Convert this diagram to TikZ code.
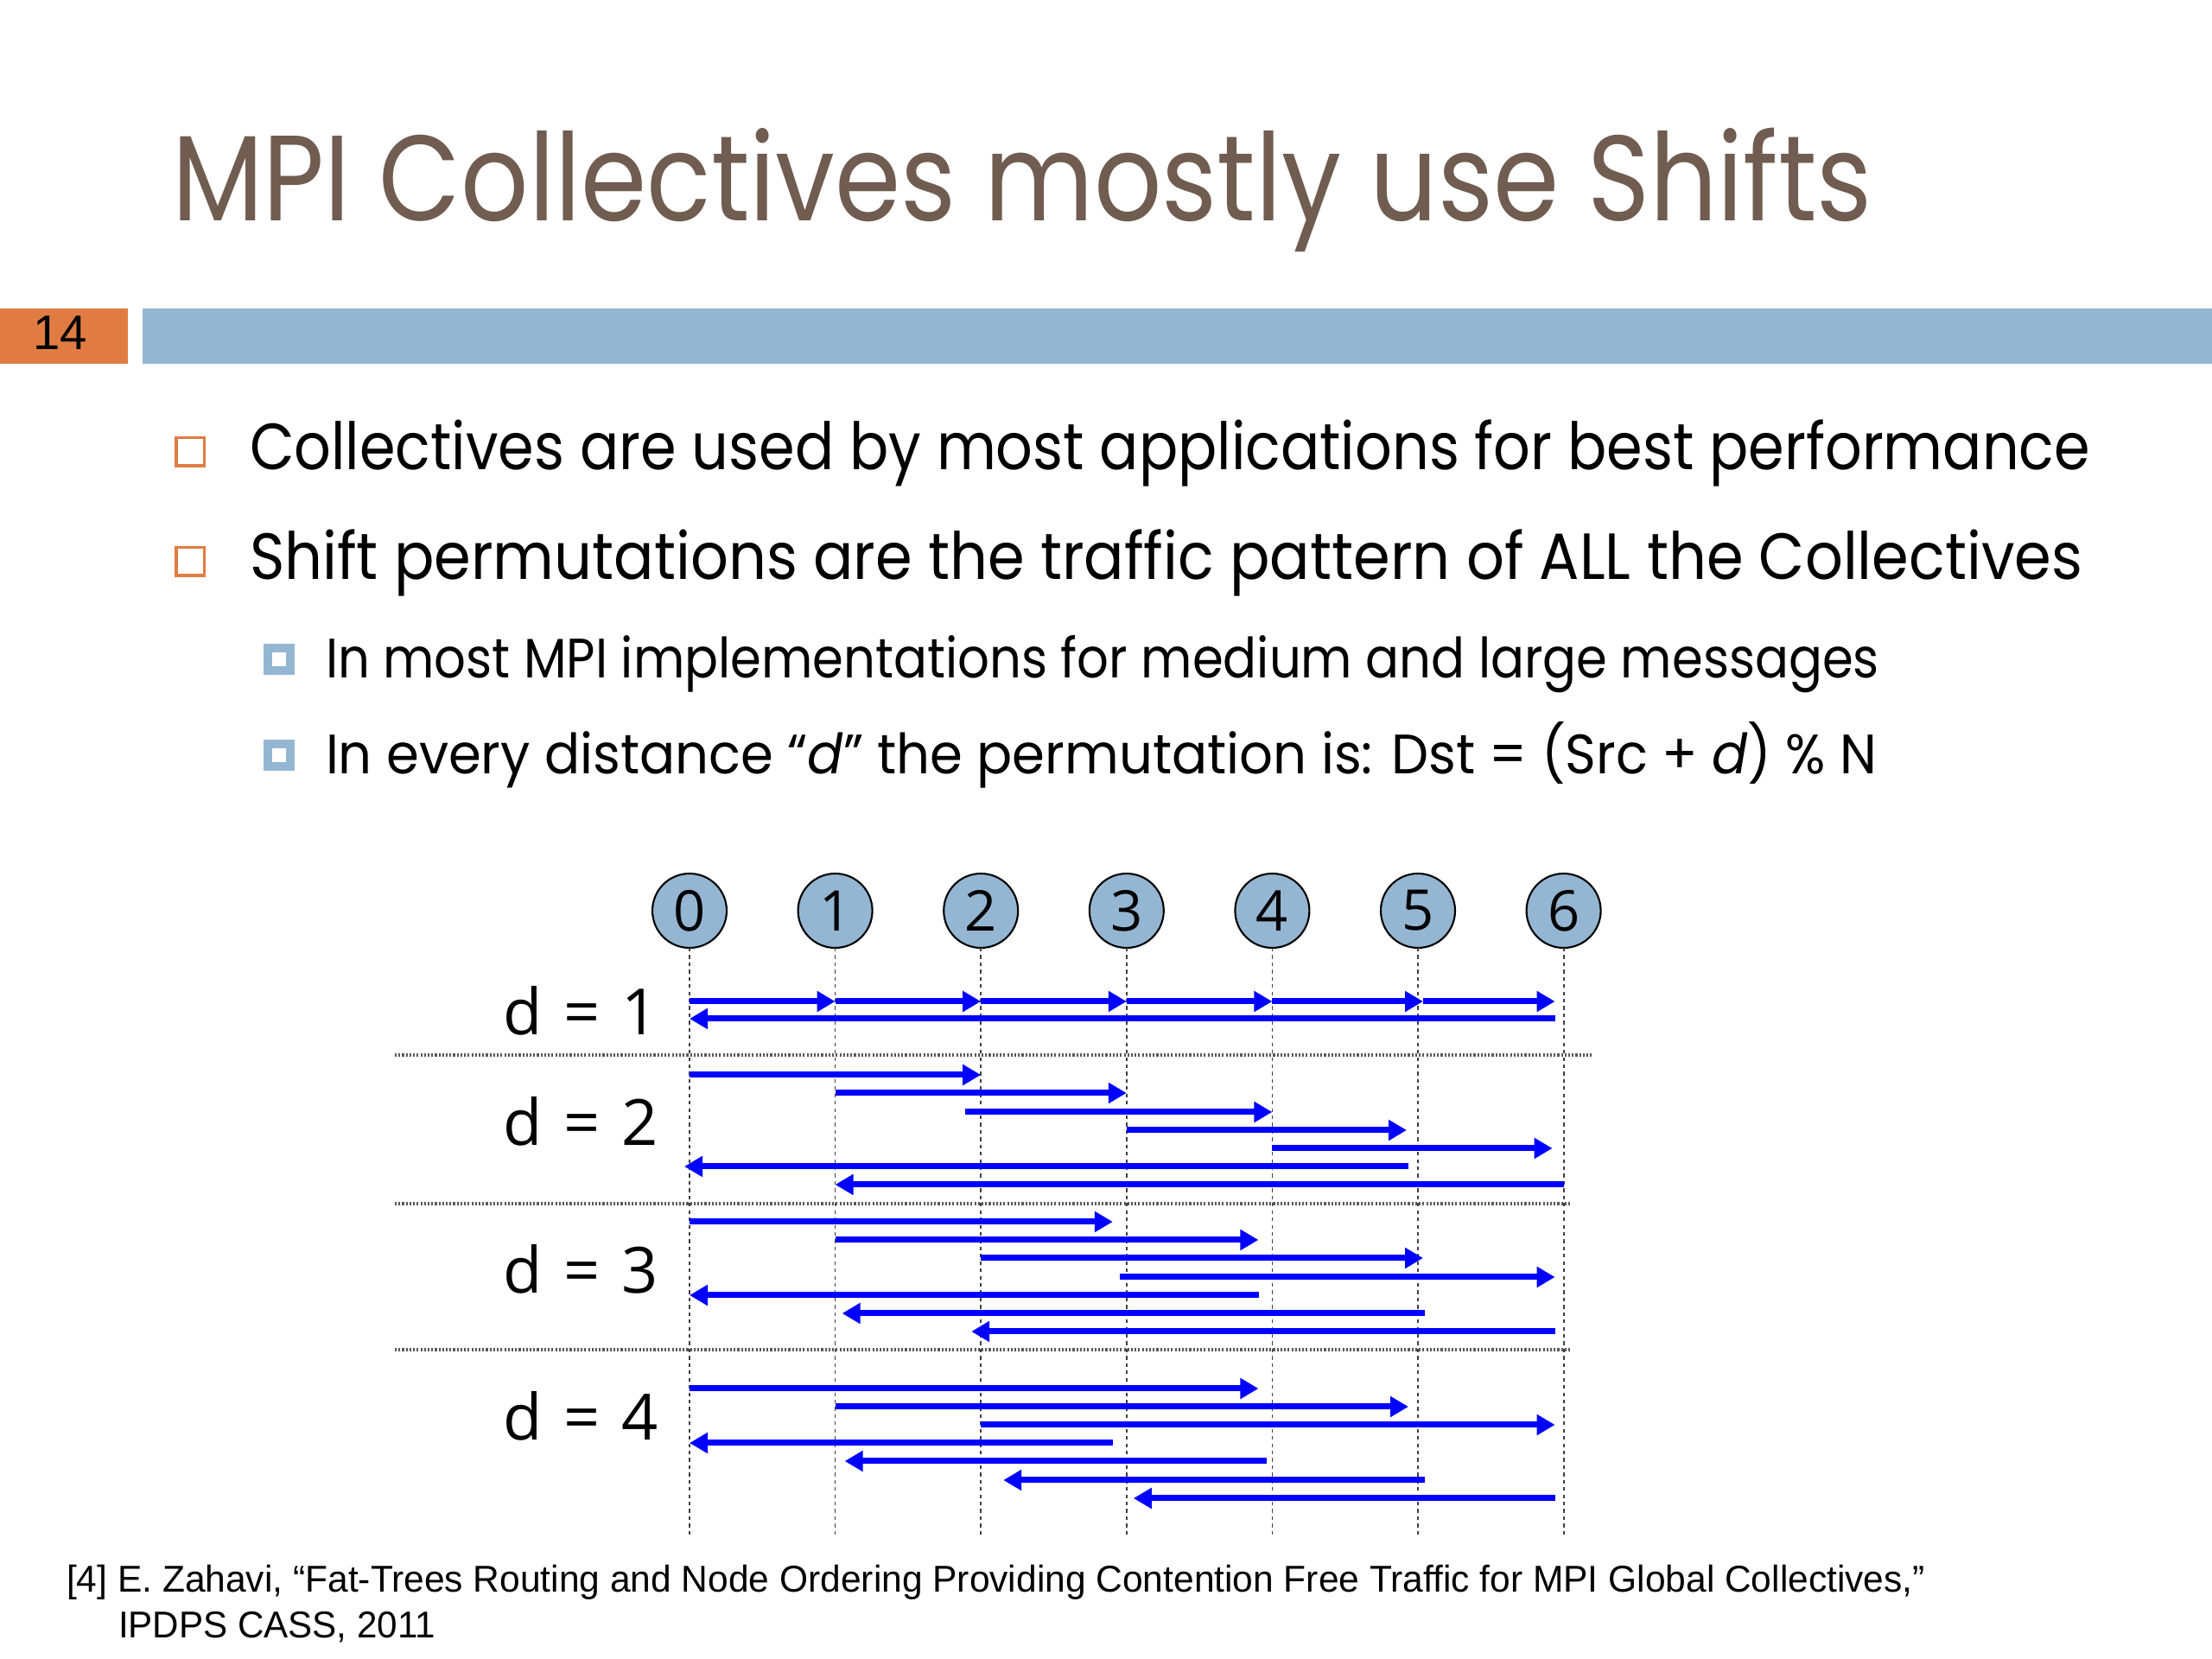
\documentclass[tikz,border=0pt]{standalone}
\usepackage{graphicx}
\usepackage{fontspec}
\setmainfont{Poppins}
\newfontfamily\refont{Liberation Sans}
\newfontfamily\labfont{Open Sans}
\usetikzlibrary{positioning,arrows.meta}

\definecolor{titlebrown}{RGB}{112,92,80}
\definecolor{barblue}{RGB}{148,182,210}
\definecolor{barorange}{RGB}{224,124,66}
\definecolor{msgblue}{RGB}{0,0,255}

% squeeze a line of text to a given width, height kept
\newcommand{\fitline}[2]{\resizebox{#1}{\height}{#2}}

\begin{document}
\begin{tikzpicture}[%
        x=1cm,y=1cm,
        txt/.style={anchor=base west, inner sep=0pt, outer sep=0pt},
        rank/.style={%
          circle,
          draw=black,
          fill=barblue,
          minimum size=0.86cm,
          inner sep=0pt,
          outer sep=0pt,
          line width=0.6pt,
          font=\labfont\fontsize{18.5}{18.5}\selectfont
        },
        dlabel/.style={anchor=base east, inner sep=0pt, font=\labfont\fontsize{21}{21}\selectfont},
        obullet/.style={draw=barorange, line width=0.035cm, minimum size=0.325cm, inner sep=0pt},
        bbullet/.style={draw=barblue, line width=0.1cm, minimum size=0.26cm, inner sep=0pt},
        msg/.style={draw=msgblue, line width=0.07cm, -{Triangle[length=0.21cm,width=0.23cm]}},
        guide/.style={line width=0.5pt, black!75, dash pattern=on 1.2pt off 1.2pt},
        sep/.style={line width=0.035cm, black!65, dash pattern=on 0.6pt off 0.6pt}
      ]
      \useasboundingbox (0,0) rectangle (25.6,19.2);

      % title and bars
      \node[txt, text=titlebrown, font=\fontsize{40}{40}\selectfont] (title) at (1.99,16.64)
        {\fitline{19.68cm}{MPI Collectives mostly use Shifts}};
      \fill[barorange] (0,15.63) rectangle (1.48,14.99);
      \fill[barblue] (1.65,15.63) rectangle (25.6,14.99);
      \node[txt, font=\refont\fontsize{16}{16}\selectfont] (num) at (0.38,15.15) {14};

      % bullets
      \node[obullet] (ob1) at (2.20,13.97) {};
      \node[txt, font=\fontsize{21.5}{21.5}\selectfont] (l1) at (2.89,13.76)
        {\fitline{21.30cm}{Collectives are used by most applications for best performance}};
      \node[obullet] (ob2) at (2.20,12.70) {};
      \node[txt, font=\fontsize{21.5}{21.5}\selectfont] (l2) at (2.89,12.49)
        {\fitline{21.21cm}{Shift permutations are the traffic pattern of ALL the Collectives}};
      \node[bbullet] (bb1) at (3.23,11.57) {};
      \node[txt, font=\fontsize{18.3}{18.3}\selectfont] (l3) at (3.77,11.35)
        {\fitline{17.98cm}{In most MPI implementations for medium and large messages}};
      \node[bbullet] (bb2) at (3.23,10.46) {};
      \node[txt, font=\fontsize{18.3}{18.3}\selectfont] (l4) at (3.77,10.24)
        {\fitline{17.95cm}{In every distance “\textit{d}” the permutation is: Dst = (Src + \textit{d}) \% N}};

      % ranks
      \node[rank] (p0) at (7.98,8.66) {0};
      \node[rank] (p1) [right=0.826cm of p0] {1};
      \node[rank] (p2) [right=0.826cm of p1] {2};
      \node[rank] (p3) [right=0.826cm of p2] {3};
      \node[rank] (p4) [right=0.826cm of p3] {4};
      \node[rank] (p5) [right=0.826cm of p4] {5};
      \node[rank] (p6) [right=0.826cm of p5] {6};

      \coordinate (foot) at (0,1.40);
      \foreach \p in {p0,p1,p2,p3,p4,p5,p6}
        \draw[guide] (\p.south) -- (\p |- foot);

      % separators
      \coordinate (s1a) at (4.57,6.99);  \coordinate (s1b) at (18.42,6.99);
      \coordinate (s2a) at (4.57,5.27);  \coordinate (s2b) at (18.17,5.27);
      \coordinate (s3a) at (4.57,3.58);  \coordinate (s3b) at (18.17,3.58);
      \draw[sep] (s1a) -- (s1b);
      \draw[sep] (s2a) -- (s2b);
      \draw[sep] (s3a) -- (s3b);

      % distance labels
      \node[dlabel] (d1) at (7.62,7.22) {d\kern1.5pt\ =\ \kern1.5pt1};
      \node[dlabel] (d2) at (7.62,5.94) {d\kern1.5pt\ =\ \kern1.5pt2};
      \node[dlabel] (d3) at (7.62,4.23) {d\kern1.5pt\ =\ \kern1.5pt3};
      \node[dlabel] (d4) at (7.62,2.53) {d\kern1.5pt\ =\ \kern1.5pt4};

      % rows
      \coordinate (a1) at (0,7.61); \coordinate (a2) at (0,7.41);
      \coordinate (b1) at (0,6.76); \coordinate (b2) at (0,6.55); \coordinate (b3) at (0,6.33);
      \coordinate (b4) at (0,6.12); \coordinate (b5) at (0,5.91); \coordinate (b6) at (0,5.70);
      \coordinate (b7) at (0,5.49);
      \coordinate (c1) at (0,5.06); \coordinate (c2) at (0,4.85); \coordinate (c3) at (0,4.64);
      \coordinate (c4) at (0,4.42); \coordinate (c5) at (0,4.21); \coordinate (c6) at (0,4.00);
      \coordinate (c7) at (0,3.79);
      \coordinate (e1) at (0,3.13); \coordinate (e2) at (0,2.92); \coordinate (e3) at (0,2.71);
      \coordinate (e4) at (0,2.50); \coordinate (e5) at (0,2.29); \coordinate (e6) at (0,2.07);
      \coordinate (e7) at (0,1.86);

      % d = 1
      \draw[msg] (p0 |- a1) -- (p1 |- a1);
      \draw[msg] (p1 |- a1) -- (p2 |- a1);
      \draw[msg] (p2 |- a1) -- (p3 |- a1);
      \draw[msg] (p3 |- a1) -- (p4 |- a1);
      \draw[msg] (p4 |- a1) -- ([xshift=0.06cm]p5 |- a1);
      \draw[msg] ([xshift=0.06cm]p5 |- a1) -- ([xshift=-0.1cm]p6 |- a1);
      \draw[msg] ([xshift=-0.1cm]p6 |- a2) -- (p0 |- a2);

      % d = 2
      \draw[msg] (p0 |- b1) -- (p2 |- b1);
      \draw[msg] (p1 |- b2) -- (p3 |- b2);
      \draw[msg] ([xshift=-0.18cm]p2 |- b3) -- (p4 |- b3);
      \draw[msg] (p3 |- b4) -- ([xshift=-0.13cm]p5 |- b4);
      \draw[msg] (p4 |- b5) -- ([xshift=-0.13cm]p6 |- b5);
      \draw[msg] ([xshift=-0.11cm]p5 |- b6) -- ([xshift=-0.06cm]p0 |- b6);
      \draw[msg] (p6 |- b7) -- (p1 |- b7);

      % d = 3
      \draw[msg] (p0 |- c1) -- ([xshift=-0.16cm]p3 |- c1);
      \draw[msg] (p1 |- c2) -- ([xshift=-0.16cm]p4 |- c2);
      \draw[msg] (p2 |- c3) -- ([xshift=0.06cm]p5 |- c3);
      \draw[msg] ([xshift=-0.08cm]p3 |- c4) -- ([xshift=-0.1cm]p6 |- c4);
      \draw[msg] ([xshift=-0.15cm]p4 |- c5) -- (p0 |- c5);
      \draw[msg] ([xshift=0.08cm]p5 |- c6) -- ([xshift=0.08cm]p1 |- c6);
      \draw[msg] ([xshift=-0.1cm]p6 |- c7) -- ([xshift=-0.11cm]p2 |- c7);

      % d = 4
      \draw[msg] (p0 |- e1) -- ([xshift=-0.16cm]p4 |- e1);
      \draw[msg] (p1 |- e2) -- ([xshift=-0.11cm]p5 |- e2);
      \draw[msg] (p2 |- e3) -- ([xshift=-0.1cm]p6 |- e3);
      \draw[msg] ([xshift=-0.16cm]p3 |- e4) -- (p0 |- e4);
      \draw[msg] ([xshift=-0.06cm]p4 |- e5) -- ([xshift=0.11cm]p1 |- e5);
      \draw[msg] ([xshift=0.08cm]p5 |- e6) -- ([xshift=0.26cm]p2 |- e6);
      \draw[msg] ([xshift=-0.1cm]p6 |- e7) -- ([xshift=0.08cm]p3 |- e7);

      % reference
      \node[txt, font=\refont\fontsize{12.3}{12.3}\selectfont] (ref1) at (0.77,0.77)
        {\fitline{21.51cm}{[4] E. Zahavi, “Fat-Trees Routing and Node Ordering Providing Contention Free Traffic for MPI Global Collectives,”}};
      \node[txt, font=\refont\fontsize{12.3}{12.3}\selectfont] (ref2) at (1.37,0.24)
        {\fitline{3.67cm}{IPDPS CASS, 2011}};
  \end{tikzpicture}
\end{document}
